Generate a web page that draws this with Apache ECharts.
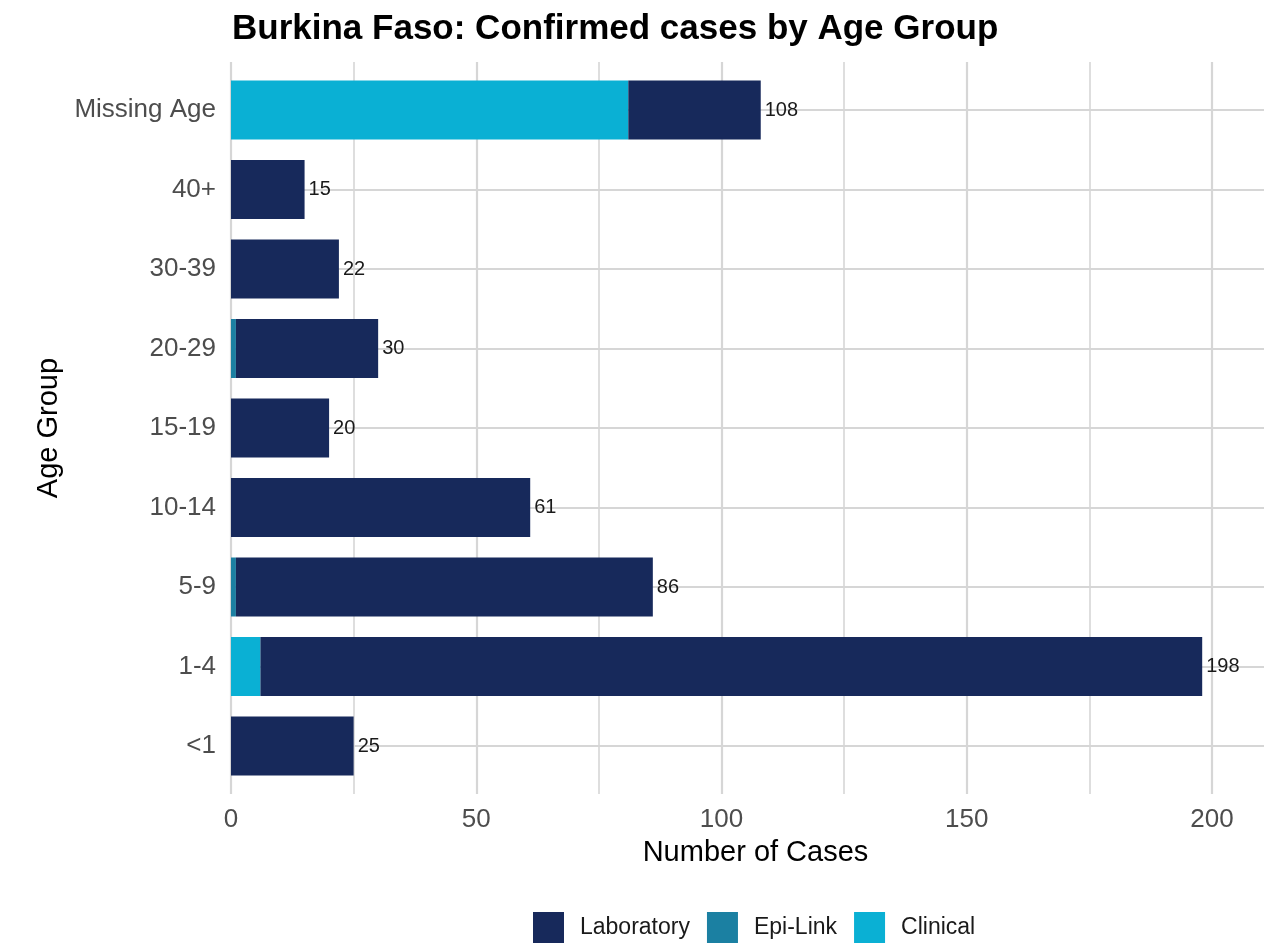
<!DOCTYPE html>
<html>
<head>
<meta charset="utf-8">
<script src="https://cdn.jsdelivr.net/npm/echarts@6/dist/echarts.min.js"></script>
<style>
html,body{margin:0;padding:0;background:#fff;}
#chart{width:1264px;height:944px;}
</style>
</head>
<body>
<div id="chart"></div>
<script>
const categories = ['<1', '1-4', '5-9', '10-14', '15-19', '20-29', '30-39', '40+', 'Missing Age'];
const clinical   = [0, 6, 0, 0, 0, 0, 0, 0, 81];
const epiLink    = [0, 0, 1, 0, 0, 1, 0, 0, 0];
const laboratory = [25, 192, 85, 61, 20, 29, 22, 15, 27];
const xTicks = [0, 50, 100, 150, 200];

const totals = categories.map((c, i) => clinical[i] + epiLink[i] + laboratory[i]);

const FONT = 'Liberation Sans, Arial, sans-serif';
const GRID_COLOR = '#d6d6d6';
const X_MAX = 210.6;

const chart = echarts.init(document.getElementById('chart'), null, {renderer: 'canvas'});

const option = {
  backgroundColor: '#ffffff',
  animation: false,
  textStyle: {fontFamily: FONT},
  title: {
    text: 'Burkina Faso: Confirmed cases by Age Group',
    left: 227, top: 7,
    textStyle: {fontFamily: FONT, fontSize: 35, fontWeight: 'bold', color: '#000'}
  },
  legend: {
    data: ['Laboratory', 'Epi-Link', 'Clinical'],
    left: 528, top: 907,
    icon: 'rect',
    itemWidth: 31, itemHeight: 31,
    itemGap: 17,
    textStyle: {fontFamily: FONT, fontSize: 23, color: '#1a1a1a', padding: [0, 0, 0, 11]}
  },
  grid: [
    {left: 231, right: 0, top: 62, height: 732},
    {left: 231, right: 0, top: 70.25, height: 715.5}
  ],
  xAxis: [
    {
      type: 'value', gridIndex: 0, min: 0, max: X_MAX, interval: 50,
      axisLine: {show: false}, axisTick: {show: false},
      axisLabel: {
        fontFamily: FONT, fontSize: 26, color: '#4d4d4d', margin: 13,
        customValues: xTicks
      },
      splitLine: {show: true, showMaxLine: false, lineStyle: {color: GRID_COLOR, width: 2.2}},
      minorTick: {show: false, splitNumber: 2},
      minorSplitLine: {show: true, lineStyle: {color: GRID_COLOR, width: 1.6}},
      name: 'Number of Cases', nameLocation: 'middle', nameGap: 44,
      nameTextStyle: {fontFamily: FONT, fontSize: 29, color: '#000', padding: [0, 0, 0, 16]}
    },
    {
      type: 'value', gridIndex: 1, min: 0, max: X_MAX,
      show: false, splitLine: {show: false}
    }
  ],
  yAxis: [
    {type: 'value', gridIndex: 0, show: false, splitLine: {show: false}},
    {
      type: 'category', gridIndex: 1, data: categories,
      axisLine: {show: false}, axisTick: {show: false},
      axisLabel: {fontFamily: FONT, fontSize: 26, color: '#4d4d4d', margin: 15},
      splitLine: {show: false},
      name: 'Age Group', nameLocation: 'middle', nameGap: 166,
      nameTextStyle: {fontFamily: FONT, fontSize: 29, color: '#000'}
    }
  ],
  series: [
    {
      name: 'Clinical', type: 'bar', stack: 'total',
      xAxisIndex: 1, yAxisIndex: 1,
      data: clinical, barWidth: 59,
      itemStyle: {color: '#0ab0d4'},
      markLine: {
        silent: true, symbol: 'none', z: 1,
        label: {show: false},
        lineStyle: {color: GRID_COLOR, width: 2.2, type: 'solid'},
        data: categories.map(c => ({yAxis: c}))
      }
    },
    {
      name: 'Epi-Link', type: 'bar', stack: 'total',
      xAxisIndex: 1, yAxisIndex: 1,
      data: epiLink, barWidth: 59,
      itemStyle: {color: '#1b80a2'}
    },
    {
      name: 'Laboratory', type: 'bar', stack: 'total',
      xAxisIndex: 1, yAxisIndex: 1,
      data: laboratory, barWidth: 59,
      itemStyle: {color: '#17295b'},
      label: {
        show: true, position: 'right', distance: 4,
        fontFamily: FONT, fontSize: 20, color: '#1a1a1a',
        formatter: p => String(totals[p.dataIndex])
      }
    }
  ]
};

chart.setOption(option);
</script>
</body>
</html>
